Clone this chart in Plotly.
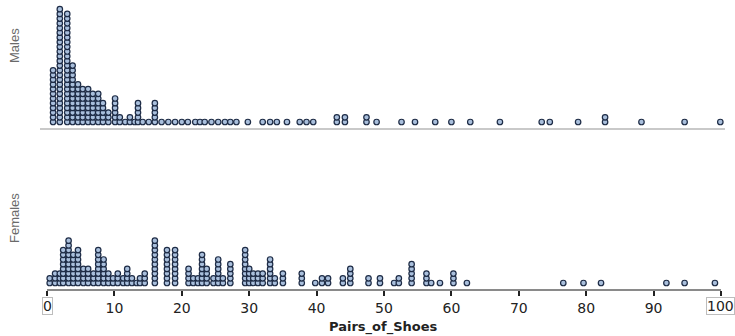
import plotly.graph_objects as go

# ---- data (value bins and number of stacked dots) ----
male_values = [0.9, 1.9, 3.0, 3.8, 4.6, 5.3, 6.1, 6.8, 7.6, 8.3, 9.1, 10.1, 10.8, 11.6, 12.3, 13.0,
               13.5, 14.2, 15.1, 16.0, 17.0, 18.0, 19.0, 20.0, 20.9, 22.0, 22.7, 23.4, 24.4, 25.4,
               26.4, 27.2, 28.1, 29.8, 32.0, 33.1, 34.1, 35.6, 37.5, 38.5, 39.5, 43.0, 44.2, 47.4,
               48.9, 52.6, 54.6, 57.6, 60.0, 62.8, 67.2, 73.4, 74.6, 78.8, 82.8, 88.2, 94.6, 99.9]
male_counts = [12, 25, 24, 13, 9, 8, 8, 7, 7, 5, 3, 6, 2, 1, 2, 1,
               5, 1, 1, 5, 1, 1, 1, 1, 1, 1, 1, 1, 1, 1,
               1, 1, 1, 1, 1, 1, 1, 1, 1, 1, 1, 2, 2, 2,
               1, 1, 1, 1, 1, 1, 1, 1, 1, 1, 2, 1, 1, 1]

female_values = [0.4, 1.2, 1.9, 2.4, 3.2, 3.9, 4.6, 5.4, 6.1, 6.9, 7.6, 8.4, 9.1, 9.8, 10.5, 11.3,
                 11.9, 12.6, 13.3, 13.8, 14.5, 16.0, 17.8, 19.0, 21.0, 21.7, 22.4, 23.0, 23.7, 24.7,
                 25.4, 26.1, 27.2, 29.4, 30.0, 30.6, 31.3, 32.0, 33.1, 33.8, 35.0, 37.8, 39.8, 40.8,
                 41.7, 43.9, 45.0, 47.7, 49.4, 51.5, 52.2, 54.1, 56.3, 57.0, 58.3, 60.3, 62.3, 76.6,
                 79.6, 82.2, 91.9, 94.6, 99.1]
female_counts = [2, 3, 3, 8, 10, 7, 8, 4, 4, 3, 8, 6, 3, 2, 3, 2,
                 4, 2, 1, 2, 3, 10, 8, 8, 4, 2, 2, 7, 4, 2,
                 6, 2, 5, 8, 4, 3, 3, 3, 6, 2, 3, 3, 1, 2,
                 2, 2, 4, 2, 2, 1, 2, 5, 3, 1, 1, 3, 1, 1,
                 1, 1, 1, 1, 1]

tick_vals = [0, 10, 20, 30, 40, 50, 60, 70, 80, 90, 100]
tick_text = ["", "10", "20", "30", "40", "50", "60", "70", "80", "90", ""]
panel_labels = ["Males", "Females"]
x_title = "Pairs_of_Shoes"


def expand(values, counts):
    xs, ys = [], []
    for v, c in zip(values, counts):
        for i in range(c):
            xs.append(v)
            ys.append(i)
    return xs, ys


mx, my = expand(male_values, male_counts)
fx, fy = expand(female_values, female_counts)

marker = dict(size=5.5, color="#a9bfdc", line=dict(color="#1d2b45", width=1.2))

fig = go.Figure()
fig.add_trace(go.Scatter(x=mx, y=my, mode="markers", marker=marker, xaxis="x2", yaxis="y2",
                         showlegend=False, hoverinfo="x"))
fig.add_trace(go.Scatter(x=fx, y=fy, mode="markers", marker=marker, xaxis="x", yaxis="y",
                         showlegend=False, hoverinfo="x"))

# geometry: plot area x 40..728 px, y 2..290 px
L, R, T, B = 40, 7, 2, 46
W, H = 735, 336
pw = W - L - R
ph = H - T - B
xr = [-1.04, 101.04]
sp = 4.7  # px per stacked dot
male_base_px, female_base_px = 129, 290
male_top_px, female_top_px = T, 165
dom_m = [(H - B - male_base_px) / ph, 1.0]
dom_f = [0.0, (H - B - female_top_px) / ph]
hm = male_base_px - male_top_px
hf = female_base_px - female_top_px
off = 7 / sp

fig.update_layout(
    width=W, height=H,
    margin=dict(l=L, r=R, t=T, b=B, autoexpand=False),
    paper_bgcolor="white", plot_bgcolor="white",
    font=dict(family="DejaVu Sans", size=14, color="#222222"),
    xaxis=dict(range=xr, domain=[0, 1], anchor="y", showgrid=False, zeroline=False,
               automargin=False,
               showline=False, tickvals=tick_vals, ticktext=tick_text, ticks="outside",
               ticklen=5, tickwidth=1.5, tickcolor="#222222",
               tickfont=dict(family="DejaVu Sans", size=14, color="#222222")),
    yaxis=dict(range=[-off, -off + hf / sp], domain=dom_f, showgrid=False, zeroline=False,
               automargin=False, showticklabels=False, showline=False),
    xaxis2=dict(range=xr, domain=[0, 1], anchor="y2", showgrid=False, zeroline=False,
                automargin=False, showline=False, showticklabels=False, ticks=""),
    yaxis2=dict(range=[-off, -off + hm / sp], domain=dom_m, showgrid=False, zeroline=False,
                automargin=False, showticklabels=False, showline=False),
)

# axis lines
fig.add_shape(type="line", xref="paper", yref="paper", x0=0, x1=(725 - L) / pw,
              y0=dom_m[0], y1=dom_m[0], line=dict(color="#c9c9c9", width=2), layer="below")
fig.add_shape(type="line", xref="x", yref="paper", x0=0, x1=100,
              y0=0, y1=0, line=dict(color="#8a8a8a", width=2), layer="below")

# boxed end labels
for v, lab in [(0, "0"), (100, "100")]:
    fig.add_annotation(x=v, xref="x", y=(H - B - 297) / ph, yref="paper", yanchor="top",
                       text=lab, showarrow=False, bordercolor="#bdbdbd", borderwidth=1,
                       borderpad=0, bgcolor="white",
                       font=dict(family="DejaVu Sans", size=14, color="#222222"))

# x title
fig.add_annotation(x=(383 - L) / pw, xref="paper", y=(H - B - 327) / ph, yref="paper",
                   yanchor="middle", text="<b>" + x_title + "</b>", showarrow=False,
                   font=dict(family="DejaVu Sans", size=13, color="#222222"))

# panel labels
for lab, ycen in zip(panel_labels, [46, 218]):
    fig.add_annotation(x=(14 - L) / pw, xref="paper", y=(H - B - ycen) / ph, yref="paper",
                       text=lab, textangle=-90, showarrow=False, xanchor="center",
                       yanchor="middle",
                       font=dict(family="Liberation Sans Narrow, Liberation Sans", size=13,
                                 color="#6a6a6a"))

fig.write_html("out.html", config={"displayModeBar": False},
               post_script="document.body.style.margin='0';document.body.style.overflow='hidden';")
